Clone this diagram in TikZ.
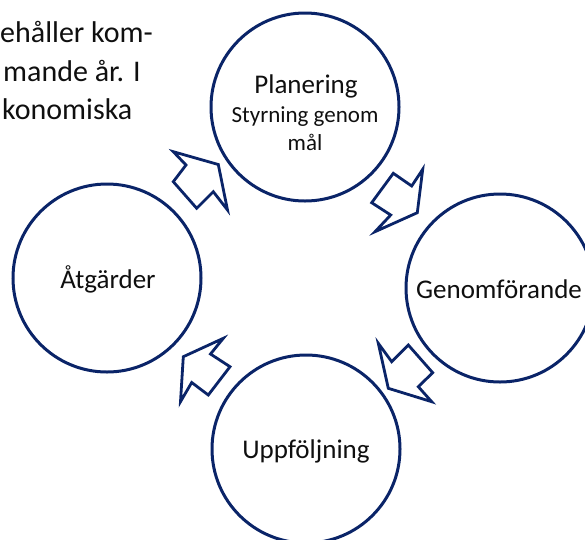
\documentclass[tikz,border=0pt]{standalone}
\usepackage{fontspec}
\setmainfont{Carlito}
\definecolor{navy}{RGB}{10,36,104}
\definecolor{txt}{RGB}{15,15,15}
\begin{document}
\begin{tikzpicture}[x=1pt,y=-1pt,
  ring/.style={draw=navy, line width=3pt, circle, minimum size=188pt, inner sep=0pt},
  blockarrow/.style={draw=navy, line width=2.8pt, line join=miter, fill=white},
  lbl/.style={anchor=base, inner sep=0pt, text=txt, font=\fontsize{27}{32}\selectfont},
  sublbl/.style={anchor=base, inner sep=0pt, text=txt, font=\fontsize{23}{28}\selectfont},
  doc/.style={anchor=base west, inner sep=0pt, text=txt, font=\fontsize{30}{36}\selectfont}]
\useasboundingbox (0,0) rectangle (585,539);
% background document text (cut off)
\node[doc] (t1) at (0,42.7) {ehåller kom-};
\node[doc] (t2) at (3,81.7) {mande år. I};
\node[doc] (t3) at (2,119) {konomiska};
% circles
\node[ring] (plan) at (305,107) {};
\node[ring] (gen) at (500,288) {};
\node[ring] (upp) at (306,449) {};
\node[ring] (atg) at (107,278) {};
% labels
\node[lbl] (planl) at (306,93.3) {Planering};
\node[sublbl] (styr) at (305,122.7) {Styrning genom};
\node[sublbl] (mal) at (305,150) {mål};
\node[lbl] (genl) at (499,298.3) {Genomförande};
\node[lbl] (uppl) at (306,458) {Uppföljning};
\node[lbl] (atgl) at (108,288) {Åtgärder};
% block arrows
\draw[blockarrow] (173.3,151.7) -- (218.3,164.5) -- (227.5,210) -- (213.3,191.7)
  -- (196.7,208.3) -- (173.3,181.7) -- (186,165) -- cycle;
\draw[blockarrow] (393.3,173.3) -- (411.7,186) -- (422.7,169.3) -- (417.3,212.7)
  -- (375,231.7) -- (390.7,215) -- (371.7,202.7) -- cycle;
\draw[blockarrow] (378.3,343.3) -- (391.7,361.7) -- (408.3,345) -- (432.7,372.7)
  -- (418.3,386.7) -- (431.7,401.7) -- (388.3,388.3) -- cycle;
\draw[blockarrow] (223.3,338.3) -- (210.5,354) -- (230,366.7) -- (208.3,395)
  -- (191.7,382.5) -- (180.5,401.7) -- (183.3,356.7) -- cycle;
\end{tikzpicture}
\end{document}
